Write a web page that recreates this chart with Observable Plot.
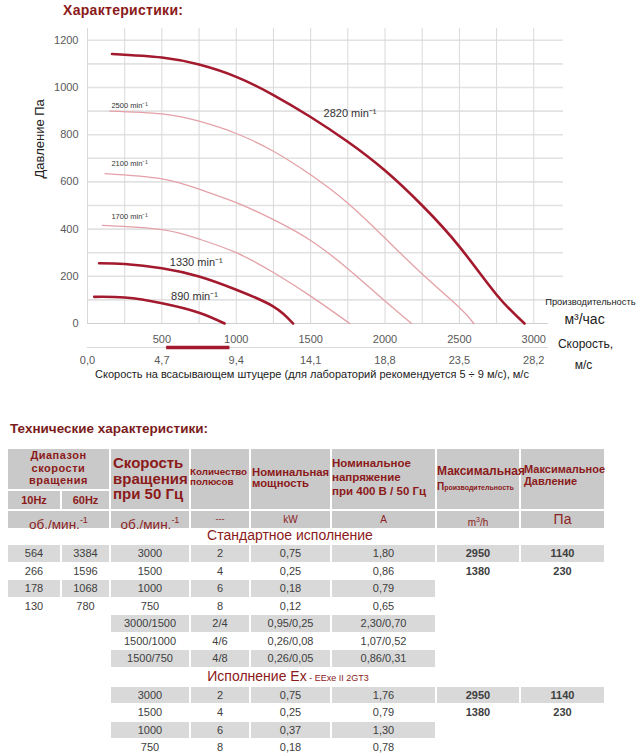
<!DOCTYPE html>
<html><head><meta charset="utf-8">
<script src="https://cdn.jsdelivr.net/npm/d3@7"></script>
<script src="https://cdn.jsdelivr.net/npm/@observablehq/plot@0.6"></script>
<style>
body{margin:0;background:#fff;font-family:"Liberation Sans",Arial,sans-serif;}
#wrap{position:relative;width:640px;height:756px;overflow:hidden;}
#wrap svg{position:absolute;left:0;top:0;}
.a{position:absolute;white-space:nowrap;}
</style></head><body><div id="wrap"></div>
<script>
// ---------- chart data ----------
const flowTicks = [500, 1000, 1500, 2000, 2500, 3000];
const velocityTickFlows = [0, 500, 1000, 1500, 2000, 2500, 3000];
const velocityLabels = ["0,0", "4,7", "9,4", "14,1", "18,8", "23,5", "28,2"];
const pressureTicks = [0, 200, 400, 600, 800, 1000, 1200];
const pressureGrid = [100, 200, 300, 400, 500, 600, 700, 800, 900, 1000, 1100, 1200];
const flowGrid = [0, 250, 500, 750, 1000, 1250, 1500, 1750, 2000, 2250, 2500, 2750, 3000];
const axisEndFlow = [3100];
const recommendedVelocity = [5, 9];   // m/s
const velocityPerFlow = 0.0094;       // (m/s) per m³/h, from the tick pairs

const curve2820 = [[165,1142],[500,1127],[750,1097],[1000,1045],[1250,968],[1500,875],[1750,770],[2000,648],[2250,500],[2500,326],[2750,122],[2938,0]];
const curve2500 = [[150,900],[500,888],[750,857],[1000,805],[1250,730],[1500,630],[1750,510],[2000,362],[2250,210],[2500,68],[2597,0]];
const curve2100 = [[118,635],[500,613],[750,569],[1000,512],[1250,440],[1500,352],[1750,232],[2000,95],[2178,0]];
const curve1700 = [[100,416],[500,398],[750,358],[1000,300],[1250,216],[1500,116],[1763,0]];
const curve1330 = [[78,255],[250,252],[500,234],[750,199],[1000,143],[1250,72],[1382,0]];
const curve890  = [[45,113],[250,110],[500,86],[750,46],[922,0]];

const seriesNames = ["2820", "2500", "2100", "1700", "1330", "890"];
const seriesPoints = [curve2820, curve2500, curve2100, curve1700, curve1330, curve890];
const seriesStrong = [true, false, false, false, true, true];
// label anchor (flow, pressure) for each curve's label
const labelFlow = [1587, 161, 161, 161, 553, 562];
const labelPressure = [890, 924, 677, 453, 260, 114];

// ---------- table data ----------
const range10Hz = ["564", "266", "178", "130"];
const range60Hz = ["3384", "1596", "1068", "780"];
const stdSpeed = ["3000", "1500", "1000", "750", "3000/1500", "1500/1000", "1500/750"];
const stdPoles = ["2", "4", "6", "8", "2/4", "4/6", "4/8"];
const stdPower = ["0,75", "0,25", "0,18", "0,12", "0,95/0,25", "0,26/0,08", "0,26/0,05"];
const stdCurrent = ["1,80", "0,86", "0,79", "0,65", "2,30/0,70", "1,07/0,52", "0,86/0,31"];
const stdMaxFlow = ["2950", "1380"];
const stdMaxPressure = ["1140", "230"];
const exSpeed = ["3000", "1500", "1000", "750"];
const exPoles = ["2", "4", "6", "8"];
const exPower = ["0,75", "0,25", "0,37", "0,18"];
const exCurrent = ["1,76", "0,79", "1,30", "0,78"];
const exMaxFlow = ["2950", "1380"];
const exMaxPressure = ["1140", "230"];

// ---------- styles ----------
const DARK = "#a3192d", LIGHT = "#e3a1a7", TITLE = "#8b1a1a";

const lineData = seriesNames.flatMap((n, i) => seriesPoints[i].map(([f, p]) => ({rpm: n, flow: f, pressure: p, strong: seriesStrong[i]})));
const labelData = seriesNames.map((n, i) => ({label: n + " min⁻¹", flow: labelFlow[i], pressure: labelPressure[i], strong: seriesStrong[i]}));

const chart = Plot.plot({
  width: 640, height: 390,
  marginTop: 28, marginBottom: 67, marginLeft: 87, marginRight: 77,
  x: {domain: [0, 3200], axis: null},
  y: {domain: [0, 1250], axis: null},
  style: {fontFamily: "'Liberation Sans', Arial, sans-serif", background: "transparent", color: "#595959"},
  marks: [
    Plot.ruleY(pressureGrid, {stroke: "#e2e2e2", strokeWidth: 1.6}),
    Plot.ruleX(flowGrid, {stroke: "#d9d9d9", strokeWidth: 1}),
    Plot.ruleY([0], {x1: 0, x2: axisEndFlow[0], stroke: "#cfcfcf", strokeWidth: 1.2}),
    Plot.ruleY([0], {x1: 0, x2: axisEndFlow[0], dy: 24, stroke: "#d9d9d9", strokeWidth: 1.2}),
    Plot.ruleY([0], {x1: recommendedVelocity[0] / velocityPerFlow, x2: recommendedVelocity[1] / velocityPerFlow, dy: 24, stroke: DARK, strokeWidth: 3.5}),
    Plot.axisY({ticks: pressureTicks, tickFormat: d => String(d), tickSize: 0, tickPadding: 9, label: null, fontSize: 11, fill: "#595959"}),
    Plot.axisX({ticks: flowTicks, tickFormat: d => String(d), tickSize: 0, tickPadding: 12, label: null, fontSize: 11, fill: "#595959"}),
    Plot.axisX({ticks: velocityTickFlows, tickFormat: d => velocityLabels[velocityTickFlows.indexOf(d)], tickSize: 0, tickPadding: 33, label: null, fontSize: 11, fill: "#595959"}),
    Plot.line(lineData.filter(d => !d.strong), {x: "flow", y: "pressure", z: "rpm", stroke: LIGHT, strokeWidth: 1.3, curve: "natural"}),
    Plot.line(lineData.filter(d => d.strong), {x: "flow", y: "pressure", z: "rpm", stroke: DARK, strokeWidth: 2.6, curve: "natural"}),
    Plot.text(labelData.filter(d => d.strong), {x: "flow", y: "pressure", text: "label", textAnchor: "start", fontSize: 11, fill: "#333"}),
    Plot.text(labelData.filter(d => !d.strong), {x: "flow", y: "pressure", text: "label", textAnchor: "start", fontSize: 7.5, fill: "#333"}),
    Plot.text(["Давление Па"], {frameAnchor: "left", rotate: -90, dx: -48, dy: 2.5, fontSize: 13, fill: "#222"}),
    Plot.text(["Скорость на всасывающем штуцере (для лабораторий рекомендуется 5 ÷ 9 м/с), м/с"], {frameAnchor: "bottom", dx: -13.5, dy: 54, fontSize: 11, fill: "#222"}),
    Plot.text(["Производительность"], {frameAnchor: "bottom-right", dx: 72, dy: -19, textAnchor: "end", fontSize: 9.3, fill: "#222"}),
    Plot.text(["м³/час"], {frameAnchor: "bottom-right", dx: 21, dy: 0, textAnchor: "middle", fontSize: 14, fill: "#222"}),
    Plot.text(["Скорость,"], {frameAnchor: "bottom-right", dx: 22, dy: 24, textAnchor: "middle", fontSize: 12, fill: "#222"}),
    Plot.text(["м/с"], {frameAnchor: "bottom-right", dx: 20, dy: 45, textAnchor: "middle", fontSize: 12, fill: "#222"})
  ]
});
const wrap = document.getElementById("wrap");
wrap.appendChild(chart);

// ---------- HTML helpers ----------
function el(html, css) {
  const d = document.createElement("div");
  d.className = "a";
  d.innerHTML = html;
  Object.assign(d.style, css);
  wrap.appendChild(d);
  return d;
}
el("Характеристики:", {left: "63px", top: "2px", fontSize: "14px", fontWeight: "bold", color: TITLE, letterSpacing: "0.3px"});
el("Технические характеристики:", {left: "10px", top: "421px", fontSize: "13.5px", fontWeight: "bold", color: "#7b1c1c"});

const colEdges = [7, 61, 110, 190, 250, 331, 436, 520, 605];
const HEAD = "#c9c9c9", STRIPE = "#d9d9d9";
function cell(c0, c1, top, h, bg) {
  const left = colEdges[c0] + 1, width = colEdges[c1 + 1] - colEdges[c0] - 2;
  return el("", {left: left + "px", top: top + "px", width: width + "px", height: h + "px", background: bg});
}
function ctext(c0, c1, top, h, html, css) {
  const left = colEdges[c0], width = colEdges[c1 + 1] - colEdges[c0];
  return el(html, Object.assign({left: left + "px", top: top + "px", width: width + "px", height: h + "px", lineHeight: h + "px", textAlign: "center"}, css));
}
// header boxes
cell(0, 1, 449, 40, HEAD);
cell(0, 0, 491, 18, HEAD); cell(1, 1, 491, 18, HEAD);
for (let c = 2; c < 8; c++) cell(c, c, 449, 60, HEAD);
cell(0, 1, 511, 16.5, HEAD);
for (let c = 2; c < 8; c++) cell(c, c, 511, 16.5, HEAD);

const hb = {fontWeight: "bold", color: TITLE};
el("Диапазон<br>скорости<br>вращения", Object.assign({left: "7px", width: "103px", top: "449px", fontSize: "11px", lineHeight: "12.5px", textAlign: "center", letterSpacing: "0.5px"}, hb));
ctext(0, 0, 491, 18, "10Hz", Object.assign({fontSize: "11px"}, hb));
ctext(1, 1, 491, 18, "60Hz", Object.assign({fontSize: "11px"}, hb));
el("Скорость<br>вращения<br>при 50 Гц", Object.assign({left: "113px", top: "455px", fontSize: "15px", lineHeight: "15.6px"}, hb));
el("Количество<br>полюсов", Object.assign({left: "190px", top: "467px", fontSize: "9.8px", lineHeight: "10px"}, hb));
el("Номинальная<br>мощность", Object.assign({left: "252px", top: "466.5px", fontSize: "11.3px", lineHeight: "11px"}, hb));
el("Номинальное<br>напряжение<br>при 400 В / 50 Гц", Object.assign({left: "332px", top: "456px", fontSize: "11.5px", lineHeight: "14px"}, hb));
el("<span style='font-size:12px'>Максимальная</span><br><span style='font-size:10px'>П</span><span style='font-size:7px'>роизводительность</span>", Object.assign({left: "437px", top: "462.5px", lineHeight: "13px"}, hb));
el("Максимальное<br>Давление", Object.assign({left: "524px", top: "463px", fontSize: "11px", lineHeight: "12px"}, hb));

const ut = {color: "#8b2323"};
ctext(0, 1, 511, 17, "об./мин.<sup style='font-size:9px'>-1</sup>", Object.assign({fontSize: "13.5px", lineHeight: "18px"}, ut));
ctext(2, 2, 511, 17, "об./мин.<sup style='font-size:9px'>-1</sup>", Object.assign({fontSize: "13.5px", lineHeight: "18px"}, ut));
ctext(3, 3, 511, 17, "---", Object.assign({fontSize: "9px"}, ut));
ctext(4, 4, 511, 17, "kW", Object.assign({fontSize: "10px"}, ut));
ctext(5, 5, 511, 17, "A", Object.assign({fontSize: "10px"}, ut));
ctext(6, 6, 511, 17, "m<sup style='font-size:7px'>3</sup>/h", Object.assign({fontSize: "10px"}, ut));
ctext(7, 7, 511, 17, "Па", Object.assign({fontSize: "14px"}, ut));

// section titles
el("Стандартное исполнение", {left: "190px", width: "200px", textAlign: "center", top: "527px", fontSize: "14px", color: TITLE});
el("Исполнение Ex<span style='font-size:9px'> - EExe II 2GT3</span>", {left: "188px", width: "200px", textAlign: "center", top: "668px", fontSize: "14px", color: TITLE});

// data rows
function drawRows(columns, top0, boldCols) {
  const n = Math.max(...columns.map(c => c.length));
  for (let r = 0; r < n; r++) {
    const top = top0 + r * 17.5;
    const filled = columns.map(c => c[r] !== undefined && c[r] !== "");
    const first = filled.indexOf(true), last = filled.lastIndexOf(true);
    if (r % 2 === 0) {
      for (let c = first; c <= last; c++) cell(c, c, top, 16.5, STRIPE);
    }
    columns.forEach((col, c) => {
      if (col[r] !== undefined && col[r] !== "")
        ctext(c, c, top, 16.5, col[r], {fontSize: "11px", color: "#404040", fontWeight: boldCols.includes(c) ? "bold" : "normal"});
    });
  }
}
drawRows([range10Hz, range60Hz, stdSpeed, stdPoles, stdPower, stdCurrent, stdMaxFlow, stdMaxPressure], 545, [6, 7]);
drawRows([[], [], exSpeed, exPoles, exPower, exCurrent, exMaxFlow, exMaxPressure], 686.5, [6, 7]);
</script></body></html>
